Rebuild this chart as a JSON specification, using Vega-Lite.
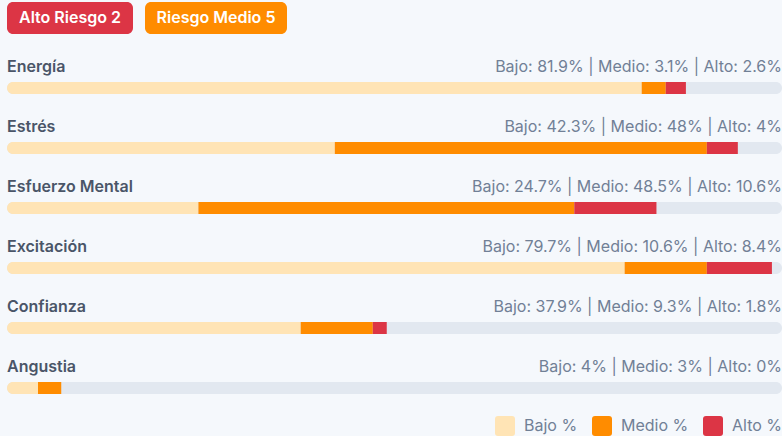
{
  "$schema": "https://vega.github.io/schema/vega-lite/v6.json",
  "background": "#f5f8fc",
  "padding": {"left": 7, "top": 2, "right": 0, "bottom": 0},
  "config": {"view": {"stroke": null}, "font": "Inter"},
  "spacing": 13.5,
  "vconcat": [
    {
      "spacing": 12,
      "hconcat": [
        {
          "width": 126, "height": 32,
          "data": {"values": [{"label": "Alto Riesgo 2"}]},
          "layer": [
            {"mark": {"type": "rect", "color": "#dc3545", "cornerRadius": 6}, "encoding": {}},
            {"mark": {"type": "text", "color": "#ffffff", "fontSize": 16, "fontWeight": 600, "align": "center", "baseline": "middle"},
             "encoding": {"text": {"field": "label"}}}
          ]
        },
        {
          "width": 142, "height": 32,
          "data": {"values": [{"label": "Riesgo Medio 5"}]},
          "layer": [
            {"mark": {"type": "rect", "color": "#ff8c00", "cornerRadius": 6}, "encoding": {}},
            {"mark": {"type": "text", "color": "#ffffff", "fontSize": 16, "fontWeight": 600, "align": "center", "baseline": "middle"},
             "encoding": {"text": {"field": "label"}}}
          ]
        }
      ]
    },
    {
      "width": 775, "height": 360,
      "data": {"values": [
        {"metric": "Energía", "Bajo %": 81.9, "Medio %": 3.1, "Alto %": 2.6, "summary": "Bajo: 81.9% | Medio: 3.1% | Alto: 2.6%"},
        {"metric": "Estrés", "Bajo %": 42.3, "Medio %": 48, "Alto %": 4, "summary": "Bajo: 42.3% | Medio: 48% | Alto: 4%"},
        {"metric": "Esfuerzo Mental", "Bajo %": 24.7, "Medio %": 48.5, "Alto %": 10.6, "summary": "Bajo: 24.7% | Medio: 48.5% | Alto: 10.6%"},
        {"metric": "Excitación", "Bajo %": 79.7, "Medio %": 10.6, "Alto %": 8.4, "summary": "Bajo: 79.7% | Medio: 10.6% | Alto: 8.4%"},
        {"metric": "Confianza", "Bajo %": 37.9, "Medio %": 9.3, "Alto %": 1.8, "summary": "Bajo: 37.9% | Medio: 9.3% | Alto: 1.8%"},
        {"metric": "Angustia", "Bajo %": 4, "Medio %": 3, "Alto %": 0, "summary": "Bajo: 4% | Medio: 3% | Alto: 0%"}
      ]},
      "encoding": {
        "y": {"field": "metric", "type": "nominal", "axis": null,
              "scale": {"domain": ["Energía", "Estrés", "Esfuerzo Mental", "Excitación", "Confianza", "Angustia"], "paddingInner": 0, "paddingOuter": 0}}
      },
      "layer": [
        {
          "mark": {"type": "bar", "height": 12, "yOffset": 10.5, "cornerRadius": 6, "color": "#e2e8f0"},
          "encoding": {
            "x": {"datum": 0, "type": "quantitative", "axis": null, "scale": {"domain": [0, 100], "nice": false, "zero": false}},
            "x2": {"datum": 100}
          }
        },
        {
          "mark": {"type": "text", "align": "left", "baseline": "middle", "dy": -10.5, "fontSize": 16, "fontWeight": 600, "color": "#4a5568"},
          "encoding": {"x": {"datum": 0, "type": "quantitative"}, "text": {"field": "metric"}}
        },
        {
          "mark": {"type": "text", "align": "right", "baseline": "middle", "dy": -10.5, "fontSize": 16, "fontWeight": 400, "color": "#718096"},
          "encoding": {"x": {"datum": 100, "type": "quantitative"}, "text": {"field": "summary"}}
        },
        {
          "transform": [
            {"fold": ["Bajo %", "Medio %", "Alto %"], "as": ["key", "value"]},
            {"window": [{"op": "row_number", "as": "ord"}], "groupby": ["metric"]},
            {"stack": "value", "groupby": ["metric"], "sort": [{"field": "ord", "order": "ascending"}], "as": ["x0", "x1"]}
          ],
          "encoding": {
            "x": {"field": "x0", "type": "quantitative"},
            "x2": {"field": "x1"},
            "color": {
              "field": "key", "type": "nominal",
              "scale": {"domain": ["Bajo %", "Medio %", "Alto %"], "range": ["#ffe4b5", "#ff8c00", "#dc3545"]},
              "legend": {
                "orient": "none", "legendX": 488, "legendY": 414, "direction": "horizontal", "title": null,
                "symbolType": "M-0.7,-1H0.7Q1,-1 1,-0.7V0.7Q1,1 0.7,1H-0.7Q-1,1 -1,0.7V-0.7Q-1,-1 -0.7,-1Z",
                "symbolSize": 400, "symbolStrokeWidth": 0, "symbolOpacity": 1,
                "labelFontSize": 16, "labelColor": "#718096", "labelOffset": 9, "columnPadding": 14
              }
            }
          },
          "layer": [
            {
              "transform": [{"filter": "datum.key === 'Bajo %'"}],
              "mark": {"type": "bar", "height": 12, "yOffset": 10.5, "cornerRadiusTopLeft": 6, "cornerRadiusBottomLeft": 6}
            },
            {
              "transform": [{"filter": "datum.key !== 'Bajo %'"}],
              "mark": {"type": "bar", "height": 12, "yOffset": 10.5}
            }
          ]
        }
      ]
    }
  ]
}
